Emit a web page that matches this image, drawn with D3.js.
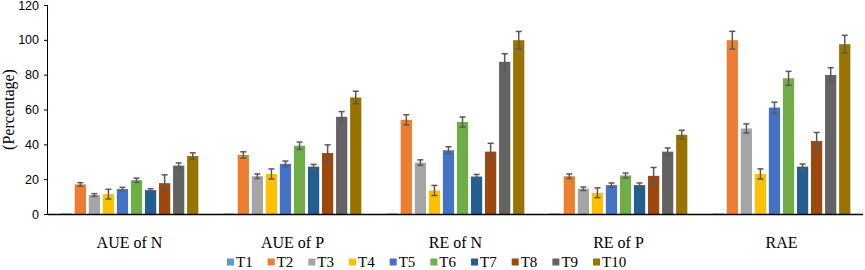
<!DOCTYPE html>
<html lang="en">
<head>
    <meta charset="UTF-8">
    <title>Efficiency chart</title>
    <script src="https://d3js.org/d3.v7.min.js"></script>
    <style>
        body { margin: 0; background: #fff; }
    </style>
</head>
<body>
<script>
    const width = 865;
    const height = 270;

    const categories = ["AUE of N", "AUE of P", "RE of N", "RE of P", "RAE"];
    const series = ["T1", "T2", "T3", "T4", "T5", "T6", "T7", "T8", "T9", "T10"];
    const colors = ["#5B9BD5", "#ED7D31", "#A5A5A5", "#FFC000", "#4472C4",
                    "#70AD47", "#255E91", "#9E480E", "#636363", "#997300"];
    const yTicks = [0, 20, 40, 60, 80, 100, 120];

    // one row per category, one value per treatment
    const values = [
        [0.3, 17.0, 10.9, 11.4, 14.3, 19.4, 13.7, 17.7, 27.8, 33.3],
        [0.3, 33.9, 21.7, 23.0, 28.8, 39.2, 27.2, 35.0, 55.8, 66.9],
        [0.3, 54.1, 29.5, 13.5, 36.6, 52.8, 21.5, 35.8, 87.4, 99.8],
        [0.3, 21.7, 14.5, 12.2, 16.6, 22.1, 16.6, 21.9, 35.8, 45.5],
        [0.3, 99.8, 49.1, 23.0, 61.1, 77.9, 27.2, 41.9, 79.8, 97.5]
    ];
    const errors = [
        [0, 1.0, 0.8, 2.8, 1.0, 1.2, 0.8, 4.8, 1.5, 1.8],
        [0, 1.8, 1.3, 2.9, 1.6, 2.1, 1.3, 4.7, 3.0, 3.6],
        [0, 2.9, 1.6, 2.9, 2.0, 2.9, 1.2, 4.8, 4.6, 5.0],
        [0, 1.3, 1.0, 2.8, 1.2, 1.4, 1.2, 4.8, 2.1, 2.6],
        [0, 5.1, 2.6, 2.9, 3.1, 4.0, 1.5, 4.9, 4.2, 5.1]
    ];

    const margin = {top: 5, right: 2, bottom: 56, left: 48};

    const svg = d3.select("body").append("svg")
            .attr("width", width).attr("height", height);

    const x0 = d3.scaleBand()
            .domain(categories)
            .range([margin.left, width - margin.right]);

    const x1 = d3.scaleBand()
            .domain(series)
            .range([0, x0.bandwidth()])
            .paddingInner(0.2)
            .paddingOuter(0.9);

    const y = d3.scaleLinear()
            .domain([0, 120])
            .range([height - margin.bottom, margin.top]);

    const color = d3.scaleOrdinal().domain(series).range(colors);

    // bars
    const groups = svg.selectAll("g.group")
            .data(categories)
            .enter()
            .append("g")
            .attr("class", "group")
            .attr("transform", d => "translate(" + x0(d) + ",0)");

    groups.selectAll("rect")
            .data((d, i) => series.map((s, j) => ({s: s, v: values[i][j], e: errors[i][j]})))
            .enter()
            .append("rect")
            .attr("x", d => x1(d.s))
            .attr("width", x1.bandwidth())
            .attr("y", d => y(d.v))
            .attr("height", d => y(0) - y(d.v))
            .style("fill", d => color(d.s));

    // error bars
    const err = groups.selectAll("g.err")
            .data((d, i) => series.map((s, j) => ({s: s, v: values[i][j], e: errors[i][j]}))
                                  .filter(d => d.e > 0))
            .enter()
            .append("g")
            .attr("class", "err")
            .style("stroke", "#595959")
            .style("stroke-width", 1.5);

    err.append("line")
            .attr("x1", d => x1(d.s) + x1.bandwidth() / 2)
            .attr("x2", d => x1(d.s) + x1.bandwidth() / 2)
            .attr("y1", d => y(d.v - d.e))
            .attr("y2", d => y(d.v + d.e));
    err.selectAll("line.cap")
            .data(d => [d.v - d.e, d.v + d.e].map(v => ({s: d.s, v: v})))
            .enter()
            .append("line")
            .attr("class", "cap")
            .attr("x1", d => x1(d.s) + x1.bandwidth() / 2 - 3)
            .attr("x2", d => x1(d.s) + x1.bandwidth() / 2 + 3)
            .attr("y1", d => y(d.v))
            .attr("y2", d => y(d.v));

    // y axis
    const yAxis = svg.append("g")
            .attr("transform", "translate(" + margin.left + ",0)")
            .call(d3.axisLeft(y).tickValues(yTicks).tickSize(4).tickPadding(5));
    yAxis.select(".domain").attr("d", "M-0.5," + y(120) + "V" + y(0)).style("stroke", "#000");
    yAxis.selectAll(".tick line").style("stroke", "#000");
    yAxis.selectAll("text")
            .style("font-family", "Liberation Sans, Arial, sans-serif")
            .style("font-size", "12.5px")
            .style("fill", "#000");

    // x axis line
    svg.append("line")
            .attr("x1", margin.left)
            .attr("x2", width - margin.right)
            .attr("y1", y(0) + 0.5)
            .attr("y2", y(0) + 0.5)
            .style("stroke", "#000")
            .style("stroke-width", 1.5);

    svg.selectAll("text.cat")
            .data(categories)
            .enter()
            .append("text")
            .attr("class", "cat")
            .attr("x", d => x0(d) + x0.bandwidth() / 2)
            .attr("y", y(0) + 34)
            .attr("text-anchor", "middle")
            .style("font-family", "Liberation Serif, Times New Roman, serif")
            .style("font-size", "16px")
            .text(d => d);

    svg.append("text")
            .attr("transform", "translate(14," + y(60) + ") rotate(-90)")
            .attr("text-anchor", "middle")
            .style("font-family", "Liberation Serif, Times New Roman, serif")
            .style("font-size", "16px")
            .text("(Percentage)");

    // legend
    const legend = svg.append("g").attr("class", "legend");
    let lx = 227;
    series.forEach(function(s) {
        const item = legend.append("g").attr("transform", "translate(" + lx + ",262)");
        item.append("rect")
                .attr("x", 0).attr("y", -3.5)
                .attr("width", 7).attr("height", 7)
                .style("fill", color(s));
        const t = item.append("text")
                .attr("x", 9)
                .attr("y", 4.5)
                .style("font-family", "Liberation Serif, Times New Roman, serif")
                .style("font-size", "15px")
                .text(s);
        lx += 9 + t.node().getComputedTextLength() + 15;
    });
</script>

</body>
</html>
